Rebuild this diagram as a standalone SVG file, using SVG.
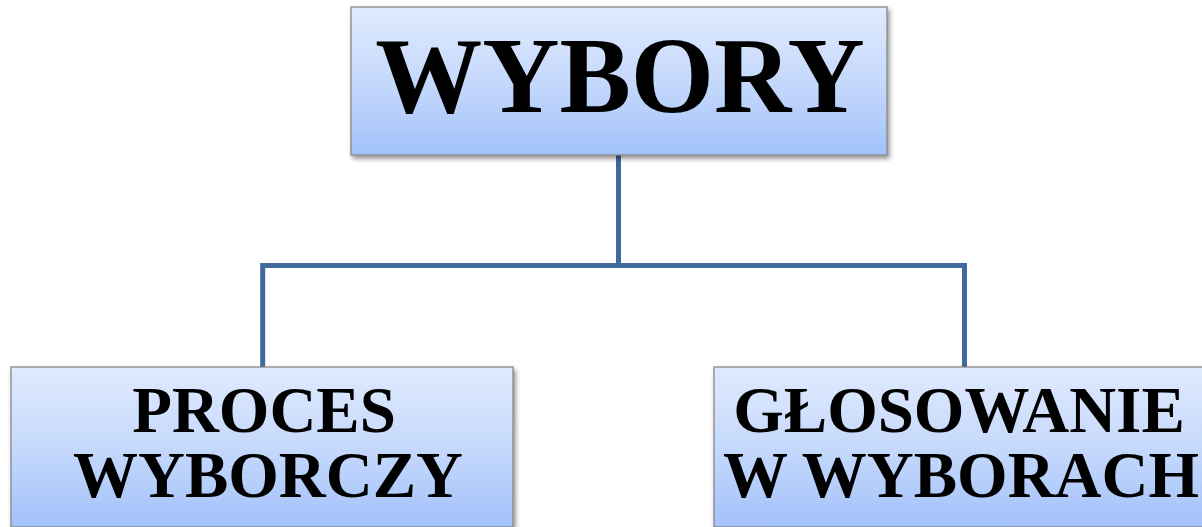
<svg xmlns="http://www.w3.org/2000/svg" width="1202" height="527" viewBox="0 0 1202 527">
<style>
.box{fill:url(#g);stroke:#808080;stroke-width:1.2;filter:url(#sh)}
.t{font-family:"Liberation Serif","Times New Roman",serif;font-weight:bold;fill:#000;text-anchor:middle}
.c{fill:none;stroke:#41699e;stroke-width:5;stroke-linejoin:miter}
</style>
<defs>
<linearGradient id="g" x1="0" y1="0" x2="0" y2="1">
<stop offset="0" stop-color="#dfeafd"/>
<stop offset="0.5" stop-color="#c6d9fc"/>
<stop offset="1" stop-color="#a2c2fa"/>
</linearGradient>
<filter id="sh" x="-5%" y="-5%" width="115%" height="125%">
<feGaussianBlur in="SourceAlpha" stdDeviation="2.5"/>
<feOffset dx="2" dy="3" result="b"/>
<feComponentTransfer><feFuncA type="linear" slope="0.45"/></feComponentTransfer>
<feMerge><feMergeNode/><feMergeNode in="SourceGraphic"/></feMerge>
</filter>
</defs>
<rect width="1202" height="527" fill="#fff"/>
<g id="connectors">
<path class="c" d="M618.5 155 V265.5"/>
<path class="c" d="M262.7 367 V265.5 H964.5 V367"/>
</g>
<g id="wybory">
<rect class="box" x="351" y="7" width="536" height="148"/>
<text class="t" x="620" y="112" font-size="107">WYBORY</text>
</g>
<g id="proces">
<rect class="box" x="11" y="367" width="502" height="160"/>
<text class="t" x="264" y="432" font-size="65">PROCES</text>
<text class="t" x="268" y="497" font-size="65">WYBORCZY</text>
</g>
<g id="glosowanie">
<rect class="box" x="714" y="367" width="502" height="160"/>
<text class="t" x="959" y="432" font-size="65">GŁOSOWANIE</text>
<text class="t" x="961" y="497" font-size="65">W WYBORACH</text>
</g>
</svg>
